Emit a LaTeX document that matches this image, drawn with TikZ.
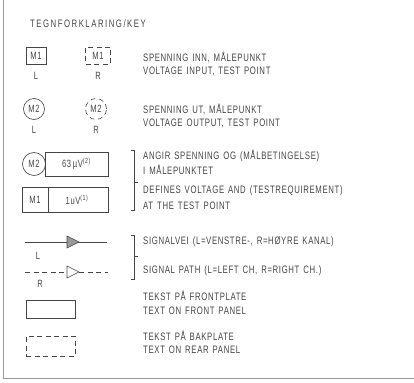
\documentclass[tikz,border=0pt]{standalone}
\usepackage{fontspec}
\setmainfont[FakeStretch=0.72,LetterSpace=6,WordSpace=1.4]{Liberation Sans}
\usetikzlibrary{arrows.meta}
\definecolor{ink}{HTML}{454545}
\definecolor{frame}{HTML}{9A9A9A}
\tikzset{
  txt/.style={anchor=west, inner sep=0pt, text=ink, font=\fontsize{10.8}{12}\selectfont},
  lbl/.style={inner sep=0pt, text=ink, font=\fontsize{10.5}{12}\selectfont},
  boxs/.style={draw=ink, line width=0.6pt, minimum width=20pt, minimum height=17pt, inner sep=0pt, text=ink, font=\fontsize{10.5}{12}\selectfont},
  circs/.style={draw=ink, line width=0.6pt, circle, minimum size=21pt, inner sep=0pt, text=ink, font=\fontsize{10.5}{12}\selectfont},
  ln/.style={draw=ink, line width=0.6pt},
  dsh/.style={dash pattern=on 5pt off 3.5pt},
}
\begin{document}
\begin{tikzpicture}[x=1pt,y=-1pt]
\useasboundingbox (0,0) rectangle (414,382);
\fill[white] (0,0) rectangle (414,382);
% frame
\draw[frame, line width=0.8pt] (3,0) -- (3,378) -- (414,378);
% title
\node[txt, font=\fontsize{10.8}{12}\selectfont\addfontfeatures{LetterSpace=14}] (title) at (30,24) {TEGNFORKLARING/KEY};
% row 1
\node[boxs] (m1l) at (36,55.5) {M1};
\node[boxs, minimum width=25pt, dsh] (m1r) at (98,55.5) {M1};
\node[lbl] (l1) at (36,76) {L};
\node[lbl] (r1) at (98,76) {R};
\node[txt] (t1a) at (143,57) {SPENNING INN, MÅLEPUNKT};
\node[txt] (t1b) at (143,71) {VOLTAGE INPUT, TEST POINT};
% row 2
\node[circs] (m2l) at (34,109) {M2};
\node[circs, dsh] (m2r) at (96,109) {M2};
\node[lbl] (l2) at (34,130) {L};
\node[lbl] (r2) at (96,130) {R};
\node[txt] (t2a) at (143,109) {SPENNING UT, MÅLEPUNKT};
\node[txt] (t2b) at (143,123) {VOLTAGE OUTPUT, TEST POINT};
% row 3
\node[circs, minimum size=23pt] (m2c) at (34,164) {M2};
\node[boxs, minimum width=63pt, minimum height=24pt] (v63) at (76.5,164) {63\,µV\textsuperscript{(2)}};
\node[boxs, minimum width=86pt, minimum height=25pt] (m1box) at (65,199.5) {};
\draw[ln] (48,187) -- (48,212);
\node[lbl] (m1t) at (35,199.5) {M1};
\node[lbl] (v1) at (77,199.5) {1uV\textsuperscript{(1)}};
\draw[ln] (131,150) -- (134,150) -- (134,210) -- (131,210);
\draw[ln] (134,182) -- (138,182);
\node[txt] (t3a) at (143,156) {ANGIR SPENNING OG (MÅLBETINGELSE)};
\node[txt] (t3b) at (143,170) {I MÅLEPUNKTET};
\node[txt] (t3c) at (143,191) {DEFINES VOLTAGE AND (TESTREQUIREMENT)};
\node[txt] (t3d) at (143,206) {AT THE TEST POINT};
% row 4 signal paths
\coordinate (sla) at (25,242);
\coordinate (slb) at (107,242);
\draw[ln] (sla) -- (slb);
\fill[ink!55] (67,236) -- (79,242) -- (67,248) -- cycle;
\draw[ln] (67,236) -- (79,242) -- (67,248) -- cycle;
\node[lbl] (l4) at (38,256) {L};
\coordinate (sra) at (25,272);
\coordinate (srb) at (67,272);
\coordinate (src) at (79,272);
\coordinate (srd) at (108,272);
\draw[ln, dsh] (sra) -- (srb);
\draw[ln, dsh] (src) -- (srd);
\draw[ln, fill=white] (67,266) -- (79,272) -- (67,278) -- cycle;
\node[lbl] (r4) at (40,284) {R};
\draw[ln] (131,235) -- (134,235) -- (134,279) -- (131,279);
\draw[ln] (134,256) -- (138,256);
\node[txt] (t4a) at (143,242) {SIGNALVEI (L=VENSTRE-, R=HØYRE KANAL)};
\node[txt] (t4b) at (143,271) {SIGNAL PATH (L=LEFT CH, R=RIGHT CH.)};
% row 5
\node[boxs, minimum width=49pt, minimum height=18pt] (front) at (50.5,309) {};
\node[txt] (t5a) at (143,296) {TEKST PÅ FRONTPLATE};
\node[txt] (t5b) at (143,311) {TEXT ON FRONT PANEL};
% row 6
\node[boxs, minimum width=49pt, minimum height=20pt, dsh] (rear) at (50.5,346) {};
\node[txt] (t6a) at (143,336) {TEKST PÅ BAKPLATE};
\node[txt] (t6b) at (143,350) {TEXT ON REAR PANEL};
\end{tikzpicture}
\end{document}
